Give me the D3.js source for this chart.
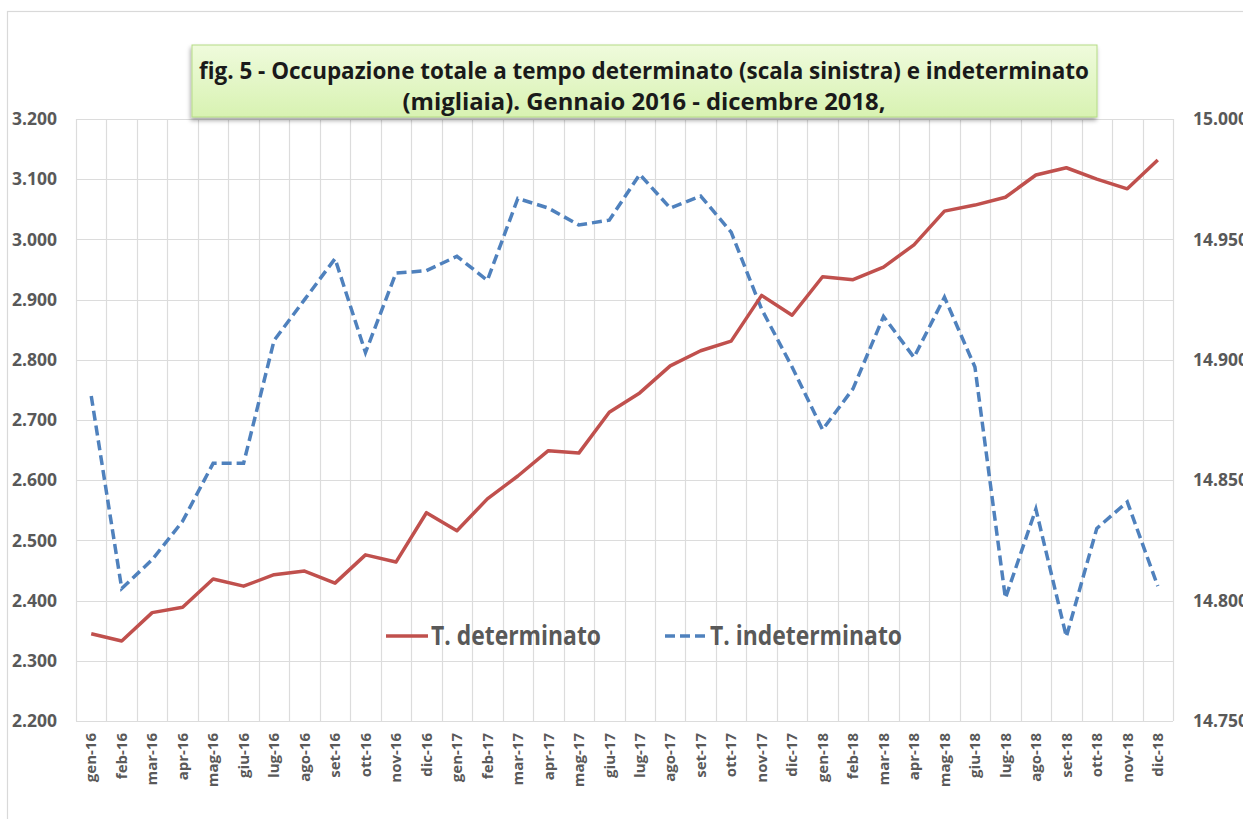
<!DOCTYPE html>
<html>
<head>
<meta charset="utf-8">
<title>fig. 5 - Occupazione totale a tempo determinato e indeterminato</title>
<script src="https://d3js.org/d3.v7.min.js"></script>
<style>
  body { margin: 0; background: white; }
  text { font-family: 'Open Sans', sans-serif; }
</style>
</head>
<body>
<svg id="chart"></svg>
<script>
// months gen-16 .. dic-18
var months = ["gen-16","feb-16","mar-16","apr-16","mag-16","giu-16","lug-16","ago-16","set-16","ott-16","nov-16","dic-16",
              "gen-17","feb-17","mar-17","apr-17","mag-17","giu-17","lug-17","ago-17","set-17","ott-17","nov-17","dic-17",
              "gen-18","feb-18","mar-18","apr-18","mag-18","giu-18","lug-18","ago-18","set-18","ott-18","nov-18","dic-18"];

// T. determinato, thousands (left scale)
var determinato = [2345,2333,2380,2389,2436,2424,2443,2449,2429,2476,2464,2546,
                   2516,2569,2607,2649,2645,2713,2745,2790,2815,2831,2907,2874,
                   2938,2933,2954,2991,3047,3057,3070,3107,3119,3100,3084,3132];

// T. indeterminato, thousands (right scale)
var indeterminato = [14885,14805,14817,14833,14857,14857,14908,14925,14942,14903,14936,14937,
                     14943,14933,14967,14963,14956,14958,14977,14963,14968,14953,14921,14897,
                     14871,14888,14918,14901,14926,14897,14801,14838,14785,14830,14841,14806];

var leftTicks = [2200,2300,2400,2500,2600,2700,2800,2900,3000,3100,3200];
var rightTicks = [14750,14800,14850,14900,14950,15000];

var width = 1243, height = 819;
var plot = {left: 76, right: 1173, top: 119, bottom: 721};

var svg = d3.select("#chart").attr("width", width).attr("height", height);

// italian style: 3.200
var itFmt = function(v) { return (v / 1000).toFixed(3); };

var x = d3.scaleBand().domain(months).range([plot.left, plot.right]);
var yL = d3.scaleLinear().domain([2200, 3200]).range([plot.bottom, plot.top]);
var yR = d3.scaleLinear().domain([14750, 15000]).range([plot.bottom, plot.top]);

// outer chart border
svg.append("rect")
  .attr("x", 7.5).attr("y", 11.5).attr("width", 1300).attr("height", 900)
  .attr("fill", "none").attr("stroke", "#d9d9d9").attr("stroke-width", 1.2);

// horizontal gridlines
svg.append("g").selectAll("line")
  .data(leftTicks)
  .enter().append("line")
  .attr("x1", plot.left).attr("x2", plot.right)
  .attr("y1", function(d) { return Math.round(yL(d)) + 0.5; })
  .attr("y2", function(d) { return Math.round(yL(d)) + 0.5; })
  .attr("stroke", "#dcdcdc").attr("stroke-width", 1.2);

// vertical gridlines at category boundaries
var bounds = months.map(function(m) { return x(m); }).concat([plot.right]);
svg.append("g").selectAll("line")
  .data(bounds)
  .enter().append("line")
  .attr("x1", function(d) { return Math.round(d) + 0.5; })
  .attr("x2", function(d) { return Math.round(d) + 0.5; })
  .attr("y1", plot.top).attr("y2", plot.bottom)
  .attr("stroke", "#dcdcdc").attr("stroke-width", 1.2);

// left axis labels
svg.append("g").selectAll("text")
  .data(leftTicks)
  .enter().append("text")
  .attr("x", 57).attr("y", function(d) { return yL(d); })
  .attr("dy", "0.35em")
  .attr("text-anchor", "end")
  .attr("font-size", 17.5).attr("font-weight", "bold").attr("fill", "#595959")
  .text(itFmt);

// right axis labels
svg.append("g").selectAll("text")
  .data(rightTicks)
  .enter().append("text")
  .attr("x", 1193).attr("y", function(d) { return yR(d); })
  .attr("dy", "0.35em")
  .attr("font-size", 17.5).attr("font-weight", "bold").attr("fill", "#595959")
  .text(itFmt);

// x labels, rotated
svg.append("g").selectAll("text")
  .data(months)
  .enter().append("text")
  .attr("transform", function(d) {
    return "translate(" + (x(d) + x.bandwidth() / 2) + ",733) rotate(-90)";
  })
  .attr("dy", "0.35em")
  .attr("text-anchor", "end")
  .attr("font-size", 15).attr("font-weight", "bold").attr("fill", "#595959")
  .text(function(d) { return d; });

// lines
var lineL = d3.line()
  .x(function(d, i) { return x(months[i]) + x.bandwidth() / 2; })
  .y(function(d) { return yL(d); });
var lineR = d3.line()
  .x(function(d, i) { return x(months[i]) + x.bandwidth() / 2; })
  .y(function(d) { return yR(d); });

svg.append("path")
  .datum(indeterminato)
  .attr("d", lineR)
  .attr("fill", "none")
  .attr("stroke", "#4f81bd").attr("stroke-width", 3.5)
  .attr("stroke-dasharray", "10,5");

svg.append("path")
  .datum(determinato)
  .attr("d", lineL)
  .attr("fill", "none")
  .attr("stroke", "#c0504d").attr("stroke-width", 3.5)
  .attr("stroke-linejoin", "round");

// legend
var legend = svg.append("g");
legend.append("line")
  .attr("x1", 386).attr("x2", 428).attr("y1", 636).attr("y2", 636)
  .attr("stroke", "#c0504d").attr("stroke-width", 3.5);
legend.append("text")
  .attr("x", 431).attr("y", 645)
  .attr("font-size", 26).attr("font-weight", "bold").attr("fill", "#595959")
  .attr("textLength", 170).attr("lengthAdjust", "spacingAndGlyphs")
  .text("T. determinato");
legend.append("line")
  .attr("x1", 665).attr("x2", 707).attr("y1", 636).attr("y2", 636)
  .attr("stroke", "#4f81bd").attr("stroke-width", 3.5)
  .attr("stroke-dasharray", "10,5");
legend.append("text")
  .attr("x", 710).attr("y", 645)
  .attr("font-size", 26).attr("font-weight", "bold").attr("fill", "#595959")
  .attr("textLength", 192).attr("lengthAdjust", "spacingAndGlyphs")
  .text("T. indeterminato");

// title box
var defs = svg.append("defs");
var grad = defs.append("linearGradient").attr("id", "tgrad")
  .attr("x1", 0).attr("y1", 0).attr("x2", 0).attr("y2", 1);
grad.append("stop").attr("offset", "0%").attr("stop-color", "#effbdc");
grad.append("stop").attr("offset", "100%").attr("stop-color", "#d8f2b2");
var shadow = defs.append("filter").attr("id", "shadow")
  .attr("x", "-5%").attr("y", "-20%").attr("width", "110%").attr("height", "150%");
shadow.append("feDropShadow").attr("dx", -1).attr("dy", 3).attr("stdDeviation", 2)
  .attr("flood-color", "#000").attr("flood-opacity", 0.35);

svg.append("rect")
  .attr("x", 192).attr("y", 45).attr("width", 905).attr("height", 72)
  .attr("fill", "url(#tgrad)").attr("stroke", "#b5dc85").attr("stroke-width", 1)
  .attr("filter", "url(#shadow)");

var title = svg.append("g");
title.append("text")
  .attr("x", 644).attr("y", 79)
  .attr("text-anchor", "middle")
  .attr("font-size", 24).attr("font-weight", "bold").attr("fill", "#1a1a1a")
  .attr("textLength", 890).attr("lengthAdjust", "spacingAndGlyphs")
  .text("fig. 5 - Occupazione totale a tempo determinato (scala sinistra) e indeterminato");
title.append("text")
  .attr("x", 644).attr("y", 110)
  .attr("text-anchor", "middle")
  .attr("font-size", 24).attr("font-weight", "bold").attr("fill", "#1a1a1a")
  .attr("textLength", 483).attr("lengthAdjust", "spacingAndGlyphs")
  .text("(migliaia). Gennaio 2016 - dicembre 2018,");
</script>
</body>
</html>
